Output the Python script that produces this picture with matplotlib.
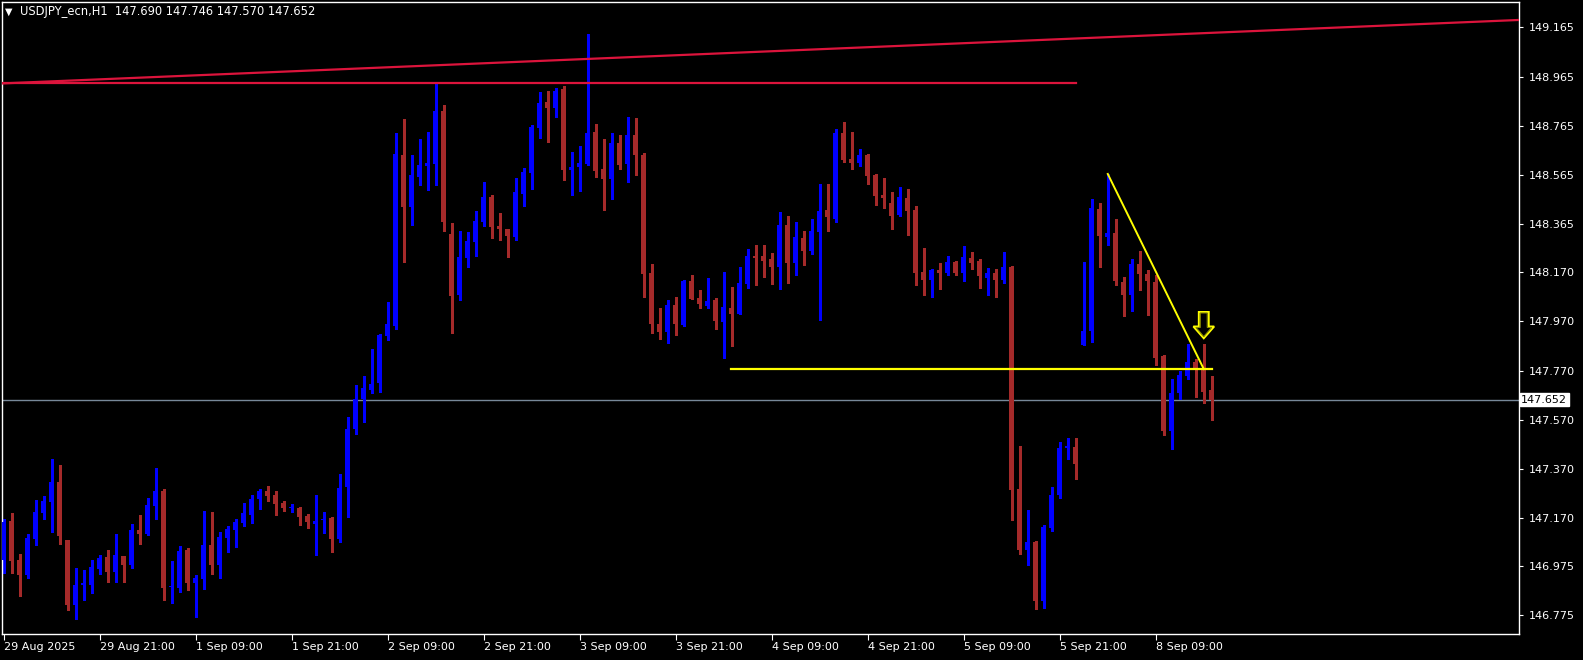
import numpy as np
import matplotlib
matplotlib.use("Agg")
import matplotlib.pyplot as plt
from matplotlib.patches import Polygon
from matplotlib.transforms import blended_transform_factory

# ---------------- data ----------------
symbol_header = "USDJPY_ecn,H1  147.690 147.746 147.570 147.652"

opens = [146.999, 147.158, 146.999, 146.938, 147.085, 147.190, 147.236, 147.316, 147.081, 146.816,
         146.898, 146.898, 146.963, 147.011, 146.950, 147.016, 146.979, 147.121, 147.105, 147.219,
         147.280, 146.889, 146.885, 147.040, 146.906, 146.922, 147.060, 146.979, 147.089, 147.121,
         147.150, 147.182, 147.247, 147.280, 147.263, 147.231, 147.210, 147.211, 147.178, 147.147,
         147.164, 147.170, 147.085, 147.297, 147.531, 147.653, 147.692, 147.720, 147.911, 147.952,
         148.646, 148.435, 148.556, 148.601, 148.611, 148.825, 148.325, 148.077, 148.227, 148.292,
         148.374, 148.475, 148.357, 148.345, 148.313, 148.489, 148.573, 148.757, 148.861, 148.838,
         148.914, 148.585, 148.597, 148.609, 148.739, 148.589, 148.548, 148.695, 148.610, 148.727,
         148.646, 148.167, 147.959, 147.928, 148.037, 147.955, 148.134, 148.065, 148.033, 148.057,
         147.968, 148.025, 148.000, 148.122, 148.236, 148.236, 148.224, 148.191, 148.362, 148.207,
         148.309, 148.256, 148.333, 148.423, 148.386, 148.736, 148.630, 148.615, 148.646, 148.565,
         148.484, 148.451, 148.402, 148.471, 148.423, 148.170, 148.139, 148.179, 148.168, 148.211,
         148.168, 148.227, 148.215, 148.147, 148.166, 148.139, 148.191, 147.288, 147.042, 147.073,
         146.834, 147.131, 147.264, 147.455, 147.461, 147.874, 147.931, 148.427, 148.313, 148.329,
         148.130, 148.077, 148.203, 148.163, 148.130, 147.829, 147.524, 147.679, 147.748, 147.805,
         147.776, 147.690]
highs = [147.165, 147.190, 147.025, 147.105, 147.243, 147.259, 147.410, 147.385, 147.083, 146.968,
         146.959, 147.000, 147.020, 147.040, 147.105, 147.018, 147.148, 147.182, 147.251, 147.373,
         147.288, 146.995, 147.056, 147.048, 146.938, 147.198, 147.194, 147.113, 147.137, 147.166,
         147.231, 147.263, 147.288, 147.300, 147.280, 147.239, 147.227, 147.215, 147.186, 147.263,
         147.194, 147.174, 147.349, 147.582, 147.711, 147.747, 147.857, 147.917, 148.050, 148.737,
         148.792, 148.646, 148.711, 148.739, 148.944, 148.849, 148.369, 148.337, 148.333, 148.418,
         148.536, 148.483, 148.410, 148.347, 148.552, 148.593, 148.768, 148.902, 148.906, 148.918,
         148.926, 148.658, 148.682, 149.138, 148.772, 148.711, 148.735, 148.727, 148.800, 148.796,
         148.654, 148.203, 148.025, 148.057, 148.069, 148.136, 148.159, 148.098, 148.146, 148.065,
         148.171, 148.110, 148.191, 148.264, 148.281, 148.281, 148.248, 148.415, 148.398, 148.374,
         148.337, 148.386, 148.529, 148.529, 148.752, 148.781, 148.740, 148.671, 148.650, 148.567,
         148.553, 148.496, 148.516, 148.508, 148.439, 148.268, 148.181, 148.207, 148.237, 148.215,
         148.276, 148.252, 148.223, 148.187, 148.183, 148.252, 148.196, 147.463, 147.203, 147.078,
         147.142, 147.296, 147.481, 147.495, 147.496, 148.211, 148.468, 148.451, 148.569, 148.386,
         148.150, 148.224, 148.256, 148.179, 148.159, 147.833, 147.736, 147.768, 147.878, 147.817,
         147.878, 147.746]
lows = [146.945, 146.946, 146.853, 146.927, 147.060, 147.166, 147.113, 147.066, 146.796, 146.760,
        146.837, 146.865, 146.942, 146.910, 146.910, 146.910, 146.967, 147.064, 147.101, 147.166,
        146.837, 146.825, 146.869, 146.877, 146.768, 146.881, 146.942, 146.927, 147.032, 147.052,
        147.137, 147.150, 147.207, 147.239, 147.182, 147.198, 147.194, 147.142, 147.129, 147.020,
        147.109, 147.032, 147.072, 147.176, 147.512, 147.562, 147.677, 147.684, 147.895, 147.937,
        148.212, 148.361, 148.524, 148.504, 148.524, 148.337, 147.922, 148.056, 148.191, 148.235,
        148.357, 148.308, 148.300, 148.231, 148.300, 148.440, 148.508, 148.715, 148.699, 148.800,
        148.544, 148.483, 148.498, 148.605, 148.556, 148.422, 148.467, 148.589, 148.536, 148.565,
        148.069, 147.922, 147.898, 147.883, 147.915, 147.953, 148.059, 148.025, 148.025, 147.939,
        147.820, 147.870, 147.998, 148.106, 148.118, 148.150, 148.122, 148.102, 148.126, 148.159,
        148.199, 148.244, 147.976, 148.337, 148.374, 148.618, 148.590, 148.600, 148.530, 148.444,
        148.432, 148.347, 148.398, 148.322, 148.119, 148.078, 148.070, 148.101, 148.160, 148.160,
        148.135, 148.184, 148.107, 148.077, 148.070, 148.127, 147.164, 147.025, 146.981, 146.802,
        146.806, 147.119, 147.250, 147.410, 147.330, 147.874, 147.886, 148.191, 148.281, 148.118,
        147.992, 148.012, 148.098, 147.996, 147.793, 147.508, 147.451, 147.654, 147.736, 147.663,
        147.638, 147.570]
closes = [147.155, 146.995, 146.938, 147.089, 147.194, 147.239, 147.316, 147.098, 146.816, 146.898,
          146.906, 146.971, 147.007, 146.950, 147.020, 146.979, 147.121, 147.105, 147.223, 147.280,
          146.885, 146.892, 147.036, 146.906, 146.926, 147.060, 146.979, 147.093, 147.125, 147.155,
          147.190, 147.247, 147.280, 147.259, 147.227, 147.211, 147.212, 147.174, 147.154, 147.158,
          147.166, 147.085, 147.292, 147.531, 147.653, 147.699, 147.717, 147.913, 147.959, 148.650,
          148.436, 148.565, 148.605, 148.613, 148.825, 148.373, 148.073, 148.231, 148.296, 148.378,
          148.475, 148.353, 148.345, 148.317, 148.495, 148.577, 148.760, 148.857, 148.837, 148.906,
          148.585, 148.597, 148.613, 148.735, 148.581, 148.548, 148.695, 148.605, 148.727, 148.646,
          148.162, 147.961, 147.928, 148.037, 147.959, 148.134, 148.061, 148.041, 148.053, 147.972,
          148.029, 148.000, 148.126, 148.236, 148.228, 148.216, 148.191, 148.362, 148.207, 148.313,
          148.256, 148.337, 148.419, 148.394, 148.736, 148.626, 148.614, 148.646, 148.562, 148.481,
          148.473, 148.398, 148.475, 148.420, 148.168, 148.139, 148.179, 148.168, 148.211, 148.168,
          148.231, 148.208, 148.156, 148.166, 148.139, 148.191, 147.286, 147.042, 147.073, 146.834,
          147.134, 147.264, 147.455, 147.462, 147.392, 147.931, 148.431, 148.317, 148.329, 148.134,
          148.077, 148.203, 148.163, 148.134, 147.821, 147.524, 147.679, 147.752, 147.805, 147.776,
          147.683, 147.652]

price_ticks = [149.165, 148.965, 148.765, 148.565, 148.365, 148.170, 147.970,
               147.770, 147.570, 147.370, 147.170, 146.975, 146.775]
time_tick_bars = [0, 12, 24, 36, 48, 60, 72, 84, 96, 108, 120, 132, 144]
time_tick_labels = ["29 Aug 2025", "29 Aug 21:00", "1 Sep 09:00", "1 Sep 21:00",
                    "2 Sep 09:00", "2 Sep 21:00", "3 Sep 09:00", "3 Sep 21:00",
                    "4 Sep 09:00", "4 Sep 21:00", "5 Sep 09:00", "5 Sep 21:00",
                    "8 Sep 09:00"]

current_price = 147.652
resistance_level = 148.937          # red horizontal
resistance_end_bar = 134
red_trend_bars = [-0.2, 189.4]       # rising red line
red_trend_prices = [148.937, 149.195]
support_level = 147.776              # yellow horizontal
support_bars = [90.9, 151.0]
yellow_trend_bars = [138, 150]
yellow_trend_prices = [148.569, 147.776]
arrow_bar = 150
arrow_top, arrow_neck, arrow_tip = 148.008, 147.949, 147.901

# ---------------- figure ----------------
W, H = 1583, 660
fig = plt.figure(figsize=(W / 100, H / 100), dpi=100, facecolor="black")
ax = fig.add_axes([2 / W, (H - 634) / H, (1519 - 2) / W, (634 - 2) / H], facecolor="black")

up_col = "#0000FF"
dn_col = "#A52A2A"
x = np.arange(len(opens))
o = np.array(opens); c = np.array(closes); h = np.array(highs); l = np.array(lows)
cols = [up_col if cc > oo else dn_col for oo, cc in zip(o, c)]

ax.vlines(x, l, h, colors=cols, linewidth=1.0, antialiased=False, zorder=2)
body_bottom = np.minimum(o, c)
body_h = np.maximum(np.abs(c - o), 0.004)
ax.bar(x, body_h, bottom=body_bottom, width=0.64, color=cols, linewidth=0,
       antialiased=False, zorder=3)

# lines
ax.axhline(current_price, color="#778899", linewidth=1.0, zorder=1)
ax.plot([-0.2, resistance_end_bar], [resistance_level, resistance_level],
        color="#DC143C", linewidth=1.6, zorder=4)
ax.plot(red_trend_bars, red_trend_prices, color="#DC143C", linewidth=1.6, zorder=4)
ax.plot(support_bars, [support_level, support_level], color="#FFFF00", linewidth=1.6, zorder=4)
ax.plot(yellow_trend_bars, yellow_trend_prices, color="#FFFF00", linewidth=1.4, zorder=4)

# arrow (down)
sw, hw = 0.62, 1.3
arrow_pts = [(arrow_bar - sw, arrow_top), (arrow_bar + sw, arrow_top),
             (arrow_bar + sw, arrow_neck), (arrow_bar + hw, arrow_neck),
             (arrow_bar, arrow_tip), (arrow_bar - hw, arrow_neck),
             (arrow_bar - sw, arrow_neck)]
ax.add_patch(Polygon(arrow_pts, closed=True, facecolor="black", edgecolor="#FFFF00",
                     linewidth=1.4, zorder=5))
inner = [(arrow_bar - sw * 0.7, arrow_top - 0.004), (arrow_bar + sw * 0.7, arrow_top - 0.004),
         (arrow_bar + sw * 0.7, arrow_neck - 0.004), (arrow_bar + hw * 0.75, arrow_neck - 0.004),
         (arrow_bar, arrow_tip + 0.007), (arrow_bar - hw * 0.75, arrow_neck - 0.004),
         (arrow_bar - sw * 0.7, arrow_neck - 0.004)]
ax.add_patch(Polygon(inner, closed=True, facecolor="none", edgecolor="#8B8B00",
                     linewidth=0.8, zorder=5))

# axes
ax.set_xlim(-0.21, 189.4)
ax.set_ylim(146.699, 149.268)
for sp in ax.spines.values():
    sp.set_color("white")
    sp.set_linewidth(1.0)

ax.yaxis.tick_right()
ax.set_yticks(price_ticks)
ax.set_yticklabels([f"{v:.3f}" for v in price_ticks])
ax.tick_params(axis="y", colors="white", labelcolor="white", length=3, width=0.8,
               labelsize=8, pad=4)
ax.set_xticks(time_tick_bars)
ax.set_xticklabels(time_tick_labels)
ax.tick_params(axis="x", colors="white", labelcolor="white", length=4, width=0.8,
               labelsize=8, pad=2)
for lab in ax.get_xticklabels():
    lab.set_horizontalalignment("left")

# current price label box
tr = blended_transform_factory(ax.transAxes, ax.transData)
ax.text(1.0015, current_price, f"{current_price:.3f}", transform=tr, fontsize=8,
        color="black", va="center", ha="left", zorder=10, clip_on=False,
        bbox=dict(boxstyle="square,pad=0.15", facecolor="white", edgecolor="white"))

# header
fig.text(5 / W, 1 - 12 / H, "\u25BC", color="white", fontsize=7, va="center", ha="left")
fig.text(20 / W, 1 - 12 / H, symbol_header, color="white", fontsize=8.3, va="center", ha="left")

fig.savefig("out.png", dpi=100, facecolor="black")
